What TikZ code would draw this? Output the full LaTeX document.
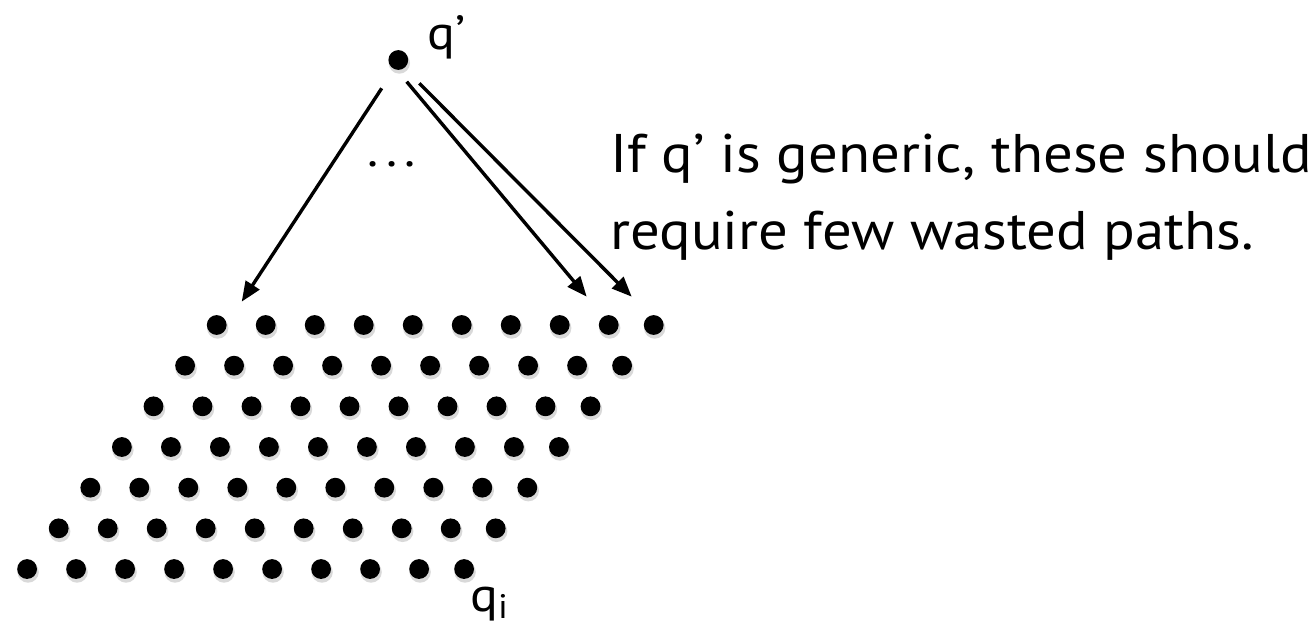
\documentclass[tikz,border=0pt]{standalone}
\usepackage{fontspec}
\setmainfont{PT Sans}
\newfontfamily\gillish[FakeStretch=1.08]{PT Sans}
\usetikzlibrary{arrows.meta}
\begin{document}
\begin{tikzpicture}[x=0.5pt,y=-0.5pt,
  dot/.style={circle,fill=black,inner sep=0pt,minimum size=9.9pt},
  dotshade/.style={circle,fill=black,opacity=0.15,inner sep=0pt,minimum size=10.7pt},
  conn/.style={line width=1.7pt,-{Triangle[length=10pt,width=8pt]}},
  bigtext/.style={anchor=base west,inner sep=0pt,font=\gillish\fontsize{27.2pt}{32pt}\selectfont},
  lbl/.style={inner sep=0pt,font=\gillish\fontsize{24pt}{28pt}\selectfont}]
\useasboundingbox (0,0) rectangle (1316,631);
% grid of dots
\foreach \r in {0,...,6}{
  \foreach \j in {0,...,9}{
    \pgfmathsetmacro\xx{216.7-31.6*\r+49*\j-4*(\j==9)}
    \pgfmathsetmacro\yy{325+40.67*\r}
    \node[dotshade] at (\xx+1,\yy+3) {};
    \node[dot] (d\r-\j) at (\xx,\yy) {};
  }
}
% top point
\node[dotshade] at (399.3,63) {};
\node[dot] (qp) at (398.3,60) {};
\node[lbl,anchor=base west] (qlab) at (427,50) {q’};
\node[lbl,anchor=base] (ell) at (392,166) {.\kern3.7pt.\kern3.7pt.};
\node[lbl,anchor=base west] (qi) at (470,611) {q\raisebox{-3.5pt}{\fontsize{17pt}{17pt}\selectfont i}};
% arrows
\coordinate (s1) at (381.7,88.3);
\coordinate (e1) at (241.7,301.7);
\coordinate (s2) at (406.7,81.7);
\coordinate (e2) at (586.7,296.7);
\coordinate (s3) at (419.3,83.3);
\coordinate (e3) at (631.7,296.7);
\draw[conn] (s1) -- (e1);
\draw[conn] (s2) -- (e2);
\draw[conn] (s3) -- (e3);
% text
\node[bigtext] (t1) at (610,172) {If q’ is generic, these should};
\node[bigtext] (t2) at (610,249) {require few wasted paths.};
\end{tikzpicture}
\end{document}
